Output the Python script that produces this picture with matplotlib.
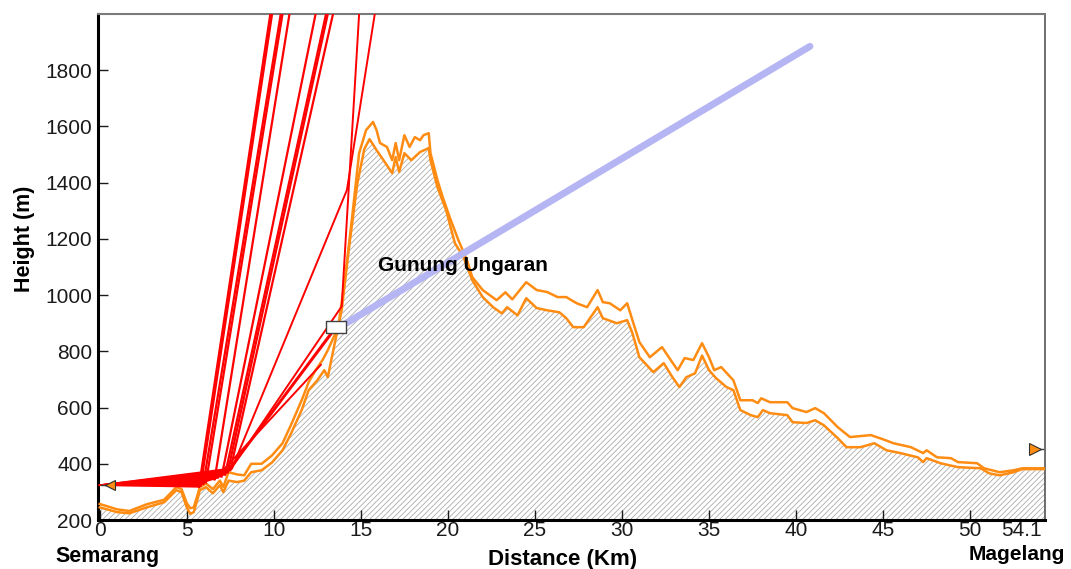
import matplotlib
matplotlib.use("Agg")
import matplotlib.pyplot as plt
import numpy as np

plt.rcParams['font.family'] = ['Liberation Sans', 'DejaVu Sans']
plt.rcParams['hatch.color'] = '#ababab'
plt.rcParams['hatch.linewidth'] = 0.6

# terrain profile (lower orange line, hatched below)
ground_km = [0, 1.0, 1.7, 2.7, 3.7, 4.4, 4.7, 5.0, 5.2, 5.4, 5.6, 5.75, 6.1, 6.5, 6.9, 7.1,
             7.4, 7.9, 8.3, 8.7, 9.3, 9.9, 10.5, 11.0, 11.6, 12.0, 12.5, 12.9, 13.1, 13.5,
             13.9, 14.3, 14.8, 15.2, 15.5, 15.9, 16.3, 16.8, 17.0, 17.2, 17.5, 17.9, 18.4,
             18.9, 19.0, 19.4, 19.9, 20.4, 20.9, 21.4, 22.0, 22.6, 23.1, 23.4, 24.0, 24.5,
             25.1, 25.7, 26.4, 26.8, 27.2, 27.8, 28.6, 28.9, 29.7, 30.3, 30.6, 31.0, 31.8,
             32.4, 32.9, 33.3, 33.7, 34.2, 34.6, 35.0, 35.4, 36.0, 36.4, 36.8, 37.4, 37.8,
             38.1, 38.5, 39.5, 39.8, 40.6, 41.1, 41.6, 42.4, 42.9, 43.7, 44.5, 45.2, 46.0,
             47.0, 47.3, 47.5, 48.3, 49.3, 50.6, 51.1, 51.7, 52.5, 53.0, 54.3]
ground_m = [245, 228, 224, 245, 263, 306, 299, 245, 222, 228, 270, 306, 317, 295, 324, 299,
            340, 335, 340, 370, 377, 405, 448, 509, 591, 662, 697, 733, 708, 829,
            947, 1160, 1398, 1520, 1555, 1516, 1480, 1434, 1491, 1438, 1505, 1480, 1509,
            1523, 1480, 1384, 1302, 1185, 1135, 1053, 993, 957, 935, 957, 928, 989,
            954, 946, 939, 918, 886, 886, 957, 918, 900, 911, 865, 779, 726,
            758, 708, 673, 708, 722, 785, 733, 705, 673, 662, 591, 573, 566,
            591, 580, 573, 548, 545, 555, 537, 491, 459, 459, 473, 448, 438,
            423, 406, 420, 402, 388, 384, 366, 359, 370, 381, 381]

# upper orange line
upper_km = [0, 1.0, 1.7, 2.7, 3.7, 4.4, 4.7, 5.0, 5.2, 5.4, 5.6, 5.75, 6.1, 6.5, 6.9, 7.1,
            7.4, 7.9, 8.3, 8.7, 9.3, 9.9, 10.5, 11.0, 11.6, 12.0, 12.4, 12.8, 13.1, 13.7,
            14.1, 14.5, 14.9, 15.3, 15.7, 15.9, 16.1, 16.5, 16.8, 17.0, 17.2, 17.5, 17.8,
            18.1, 18.4, 18.6, 18.9, 19.0, 19.4, 19.7, 20.1, 20.6, 21.1, 21.4, 22.0, 22.8,
            23.3, 23.7, 24.5, 25.1, 25.7, 26.3, 26.8, 27.4, 28.0, 28.6, 28.9, 29.3, 29.9,
            30.3, 30.6, 31.0, 31.6, 32.3, 32.8, 33.2, 33.6, 34.1, 34.6, 35.0, 35.3, 35.7,
            36.4, 36.8, 37.5, 37.8, 38.0, 38.5, 39.5, 39.8, 40.6, 41.1, 41.6, 42.4, 43.1,
            44.3, 45.0, 45.6, 46.6, 47.3, 47.5, 48.1, 48.9, 49.3, 50.4, 50.8, 51.7, 52.5,
            53.0, 54.3]
upper_m = [257, 238, 232, 256, 272, 317, 310, 260, 242, 245, 285, 317, 330, 310, 340, 318,
           370, 362, 359, 400, 400, 430, 473, 540, 626, 690, 733, 769, 804, 886,
           1064, 1278, 1505, 1587, 1616, 1587, 1541, 1527, 1480, 1541, 1480, 1569, 1527,
           1562, 1551, 1569, 1576, 1505, 1409, 1349, 1278, 1196, 1124, 1064, 1018, 982,
           1010, 985, 1046, 1018, 1011, 993, 993, 971, 957, 1018, 975, 971, 946,
           971, 911, 833, 779, 815, 769, 733, 776, 769, 829, 779, 733, 744,
           697, 626, 626, 616, 633, 619, 619, 598, 584, 598, 580, 530, 495,
           502, 487, 473, 459, 438, 448, 423, 420, 406, 402, 384, 370, 377,
           384, 384]

# transmitter / receiver
tx_km, tx_m = 0.6, 324
rx_km, rx_m = 53.7, 452

# rays: transmitter -> bounce point -> leaving the top of the plot
bounce_km = [5.7, 5.8, 5.95, 6.1, 6.6, 6.8, 7.0, 7.2, 7.35, 7.5, 7.6]
bounce_m = [318, 322, 328, 334, 345, 350, 355, 362, 370, 378, 384]
exit_km = [9.8, 9.9, 10.4, 10.5, 10.9, None, 12.4, 13.0, 13.1, 13.4, None]
top_m = 2000

# rays bent on the slope of the mountain
bent_rays = [
    ([7.5, 13.9, 14.9], [378, 960, 2000]),
    ([7.6, 14.2, 15.8], [384, 1374, 2000]),
    ([7.35, 13.6], [370, 885]),
    ([7.2, 13.6], [362, 892]),
    ([6.6, 12.7], [345, 752]),
]

# line of sight from the marker
los_km = [13.75, 40.8]
los_m = [885, 1885]

xt = [0, 5, 10, 15, 20, 25, 30, 35, 40, 45, 50, 54.1]
xt_labels = ['0', '5', '10', '15', '20', '25', '30', '35', '40', '45', '50', '54.1']

fig = plt.figure(figsize=(10.71, 5.69), dpi=100)
ax = fig.add_axes([0.0915, 0.0861, 0.8842, 0.8893])

ax.fill_between(ground_km, 0, ground_m, facecolor='white', hatch='//////', linewidth=0, zorder=1)
ax.plot(ground_km, ground_m, color='#ff8c12', lw=1.8, zorder=3)
ax.plot(upper_km, upper_m, color='#ff8c12', lw=1.8, zorder=3)

# red fan
fan_x = [0.0] + bounce_km
fan_y = [tx_m] + bounce_m
ax.fill(fan_x, fan_y, color='red', lw=0, zorder=4)
for bx, by, ex in zip(bounce_km, bounce_m, exit_km):
    ax.plot([0.0, bx], [tx_m, by], color='red', lw=1.2, zorder=4)
    if ex is not None:
        ax.plot([bx, ex], [by, top_m], color='red', lw=1.6, zorder=4)
for rx_, ry_ in bent_rays:
    ax.plot(rx_, ry_, color='red', lw=1.4, zorder=4)

ax.plot(los_km, los_m, color='#b5b5f3', lw=5, solid_capstyle='round', zorder=5)
box = [(-1, -0.6), (1, -0.6), (1, 0.6), (-1, 0.6), (-1, -0.6)]
ax.plot(los_km[0] - 0.15, los_m[0], marker=box, ms=15, mfc='white', mec='#404040', mew=1, zorder=6)

ax.plot([tx_km - 0.5, tx_km], [tx_m, tx_m], color='#404040', lw=1, zorder=6)
ax.plot(tx_km, tx_m, marker='<', ms=7, mfc='#ff8c12', mec='#303030', mew=0.8, zorder=6)
ax.plot([rx_km, rx_km + 0.5], [rx_m, rx_m], color='#404040', lw=1, zorder=6)
ax.plot(rx_km, rx_m, marker='>', ms=8, mfc='#ff8c12', mec='#303030', mew=0.8, zorder=6)

ax.text(16.0, 1105, 'Gunung Ungaran', fontsize=15, fontweight='bold', va='center', zorder=7)

ax.set_xlim(-0.1, 54.3)
ax.set_ylim(200, 2000)
ax.set_xticks(xt)
ax.set_xticklabels(xt_labels)
ax.get_xticklabels()[-1].set_ha('right')
ax.set_yticks(range(200, 1801, 200))
ax.tick_params(direction='in', length=7, width=1, labelsize=15, colors='#1a1a1a', pad=4)
ax.tick_params(axis='x', pad=1)
ax.xaxis.get_major_ticks()[-1].tick1line.set_visible(False)

for s in ['left', 'bottom']:
    ax.spines[s].set_linewidth(2.2)
    ax.spines[s].set_color('black')
ax.spines['top'].set_color('#7a7a7a')
ax.spines['top'].set_linewidth(1.5)
ax.spines['right'].set_color('#555555')
ax.spines['right'].set_linewidth(1.2)

fig.text(0.0233, 0.58, 'Height (m)', rotation=90, ha='center', va='center', fontsize=15.5, fontweight='bold')
fig.text(0.525, 0.016, 'Distance (Km)', ha='center', va='center', fontsize=16, fontweight='bold')
fig.text(0.10, 0.022, 'Semarang', ha='center', va='center', fontsize=15.5, fontweight='bold')
fig.text(0.9496, 0.026, 'Magelang', ha='center', va='center', fontsize=15, fontweight='bold')

fig.savefig('out.png', dpi=100)
